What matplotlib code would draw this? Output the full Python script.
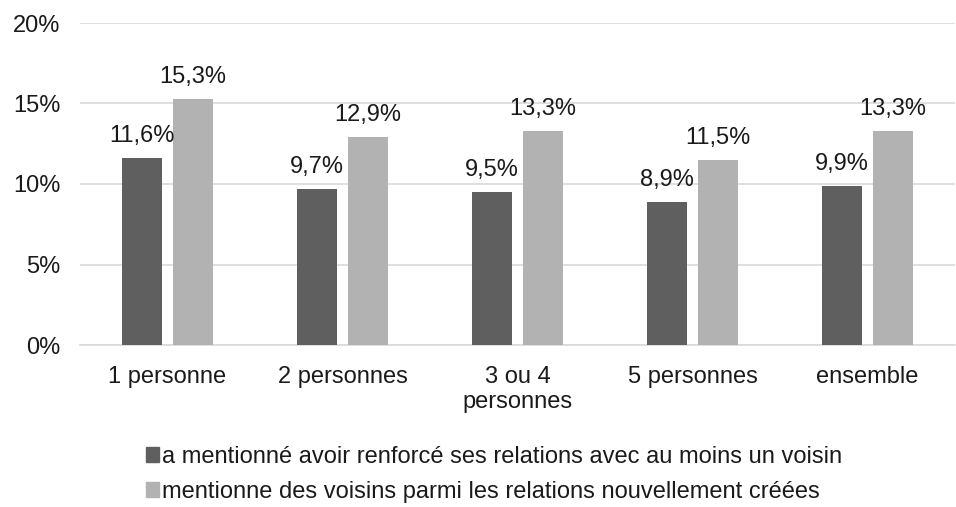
import numpy as np
import matplotlib.pyplot as plt
from matplotlib.patches import Patch

plt.rcParams['font.family'] = ['Liberation Sans', 'DejaVu Sans']

categories = ['1 personne', '2 personnes', '3 ou 4\npersonnes', '5 personnes', 'ensemble']
renforce = [11.6, 9.7, 9.5, 8.9, 9.9]
nouvelles = [15.3, 12.9, 13.3, 11.5, 13.3]
series_names = ['a mentionné avoir renforcé ses relations avec au moins un voisin',
                'mentionne des voisins parmi les relations nouvellement créées']

dark = '#5f5f5f'
light = '#b2b2b2'
fs = 17

fig = plt.figure(figsize=(9.56, 5.07), dpi=100)
ax = fig.add_axes([80 / 956, 1 - 345 / 507, 875 / 956, 322 / 507])

x = np.arange(len(categories))
w = 0.23
off = 0.147
b1 = ax.bar(x - off, renforce, w, color=dark, zorder=3)
b2 = ax.bar(x + off, nouvelles, w, color=light, zorder=3)

for bars, vals in [(b1, renforce), (b2, nouvelles)]:
    for b, v in zip(bars, vals):
        ax.text(b.get_x() + b.get_width() / 2, v + 1.0, f'{v:.1f}%'.replace('.', ','),
                ha='center', va='baseline', fontsize=fs, color='#1a1a1a')

ax.set_xlim(-0.5, len(categories) - 0.5)
ax.set_ylim(0, 20)
ax.set_yticks([0, 5, 10, 15, 20])
ax.set_yticklabels([f'{t}%' for t in [0, 5, 10, 15, 20]])
ax.set_xticks(x)
ax.set_xticklabels(categories, linespacing=1.2)
ax.tick_params(axis='y', length=0, pad=14, labelsize=fs, labelcolor='#1a1a1a')
ax.tick_params(axis='x', length=0, pad=15, labelsize=fs, labelcolor='#1a1a1a')
ax.grid(axis='y', color='#d9d9d9', linewidth=1.2, zorder=0)
for s in ['top', 'right', 'left']:
    ax.spines[s].set_visible(False)
ax.spines['bottom'].set_color('#d9d9d9')
ax.spines['bottom'].set_linewidth(1.2)

handles = [Patch(color=dark), Patch(color=light)]
fig.legend(handles, series_names, loc='upper left', bbox_to_anchor=(134 / 956, 1 - 434 / 507),
           frameon=False, fontsize=fs, handlelength=0.55, handleheight=0.55,
           handletextpad=0.15, labelspacing=0.55, labelcolor='#1a1a1a',
           borderpad=0)

fig.savefig('out.png', dpi=100)
